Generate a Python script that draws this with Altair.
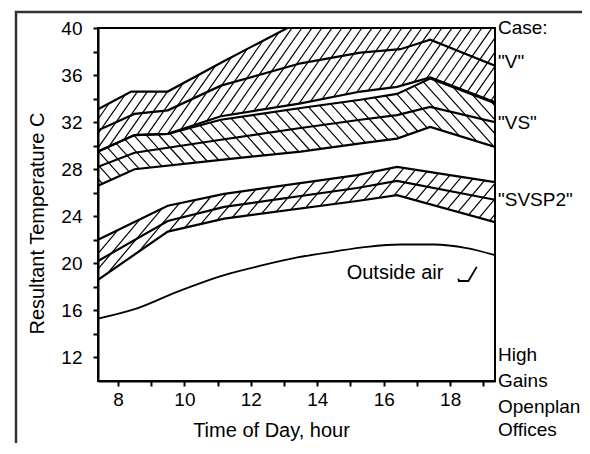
import altair as alt
import numpy as np
import pandas as pd

X_MIN, X_MAX = 7.4, 19.35
Y_MIN, Y_MAX = 10, 40
W, H = 397, 353
FONT = "Liberation Sans"

# ---- data (hour, temperature C) ----
v_top_x = [7.4, 8.4, 9.5, 11.2, 13.1, 19.35]
v_top_y = [33.1, 34.6, 34.6, 37.2, 40.0, 40.0]
v_mid_x = [7.4, 8.5, 9.5, 11.1, 13.5, 15.3, 16.5, 17.4, 19.35]
v_mid_y = [31.3, 32.7, 33.0, 35.1, 37.0, 37.9, 38.2, 39.0, 36.8]
v_low_x = [7.4, 8.5, 9.5, 11.1, 13.5, 15.3, 16.4, 17.4, 19.35]
v_low_y = [29.5, 30.9, 31.0, 32.5, 33.6, 34.6, 35.0, 35.8, 33.7]
vs_top_x = [7.4, 8.5, 9.5, 11.1, 13.5, 15.3, 16.4, 17.4, 19.35]
vs_top_y = [29.5, 30.9, 31.0, 32.2, 33.2, 33.9, 34.4, 35.7, 33.6]
vs_mid_x = [7.4, 8.5, 11.1, 13.5, 15.3, 16.4, 17.4, 19.35]
vs_mid_y = [28.2, 29.4, 30.5, 31.5, 32.2, 32.6, 33.3, 32.0]
vs_low_x = [7.4, 8.5, 11.1, 13.5, 15.3, 16.4, 17.4, 19.35]
vs_low_y = [26.6, 28.0, 28.8, 29.5, 30.2, 30.6, 31.6, 29.9]
sv_top_x = [7.4, 9.5, 11.2, 15.2, 16.4, 19.35]
sv_top_y = [22.0, 24.9, 25.9, 27.5, 28.2, 26.9]
sv_mid_x = [7.4, 9.5, 11.2, 15.2, 16.4, 19.35]
sv_mid_y = [20.2, 23.6, 24.8, 26.4, 27.0, 25.4]
sv_low_x = [7.4, 9.5, 11.2, 15.2, 16.4, 19.35]
sv_low_y = [18.6, 22.7, 23.8, 25.3, 25.8, 23.5]
air_x = [7.4, 8.5, 9.8, 11.2, 12.3, 13.4, 14.5, 15.5, 16.5, 17.5, 18.5, 19.35]
air_y = [15.3, 16.1, 17.6, 19.0, 19.8, 20.5, 21.0, 21.4, 21.6, 21.6, 21.3, 20.7]

case_labels = ["Case:", '"V"', '"VS"', '"SVSP2"', "High", "Gains", "Openplan", "Offices"]
case_label_y = [40.0, 37.1, 31.9, 25.4, 12.2, 10.0, 7.8, 5.8]

air_label = "Outside air"
air_label_x, air_label_y = 16.34, 19.15
hook_x = [18.25, 18.26, 18.55, 18.8]
hook_y = [18.7, 18.5, 18.5, 19.7]

# ---- long-format line table ----
series = {
    "v_top": (v_top_x, v_top_y), "v_mid": (v_mid_x, v_mid_y), "v_low": (v_low_x, v_low_y),
    "vs_top": (vs_top_x, vs_top_y), "vs_mid": (vs_mid_x, vs_mid_y), "vs_low": (vs_low_x, vs_low_y),
    "sv_top": (sv_top_x, sv_top_y), "sv_mid": (sv_mid_x, sv_mid_y), "sv_low": (sv_low_x, sv_low_y),
}
rows = []
for name, (xs_, ys_) in series.items():
    for a, b in zip(xs_, ys_):
        rows.append({"series": name, "hour": a, "temp": b})
lines_df = pd.DataFrame(rows)
air_df = pd.DataFrame({"hour": air_x, "temp": air_y})

# ---- hatching of the bands (segments derived from band boundaries) ----
PXH = W / (X_MAX - X_MIN)
PXT = H / (Y_MAX - Y_MIN)


def hatch(lx, ly, ux, uy, angle, spacing_px, direction, band):
    grid = np.linspace(X_MIN, X_MAX, 8000)
    lo = np.interp(grid, lx, ly)
    up = np.minimum(np.interp(grid, ux, uy), Y_MAX)
    k = direction * np.tan(np.radians(angle)) * PXH / PXT
    dc = abs(k) * spacing_px / PXH
    cmin = min((lo - k * grid).min(), (up - k * grid).min())
    cmax = max((lo - k * grid).max(), (up - k * grid).max())
    segs = []
    for c in np.arange(cmin - dc * 0.5, cmax + dc, dc):
        yl = c + k * grid
        inside = np.where((yl >= lo) & (yl <= up))[0]
        if len(inside) < 2:
            continue
        i0, i1 = inside[0], inside[-1]
        segs.append({"band": band, "x1": grid[i0], "y1": yl[i0], "x2": grid[i1], "y2": yl[i1]})
    return segs


hatch_rows = []
hatch_rows += hatch(v_low_x, v_low_y, v_top_x, v_top_y, 55, 10, 1, "V")
hatch_rows += hatch(vs_low_x, vs_low_y, vs_top_x, vs_top_y, 48, 12.5, -1, "VS")
hatch_rows += hatch(sv_low_x, sv_low_y, sv_top_x, sv_top_y, 50, 13, 1, "SVSP2")
hatch_df = pd.DataFrame(hatch_rows)

# ---- scales and axes ----
xs = alt.Scale(domain=[X_MIN, X_MAX], nice=False, zero=False)
ys = alt.Scale(domain=[Y_MIN, Y_MAX], nice=False, zero=False)

xaxis = alt.Axis(
    values=list(range(8, 20)),
    labelExpr="datum.value % 2 == 0 ? datum.label : ''",
    title="Time of Day, hour", grid=False,
    tickSize=5, tickWidth=2, tickColor="black",
    domainColor="black", domainWidth=2,
    labelFont=FONT, labelFontSize=19, labelColor="black", labelPadding=4,
    labelFlush=False, labelOverlap=False,
    titleFont=FONT, titleFontSize=20, titleFontWeight="normal", titleColor="black",
    titleX=173, titleY=49, titleAlign="center", titleBaseline="middle",
)
yaxis = alt.Axis(
    values=list(range(12, 41, 2)),
    labelExpr="datum.value % 4 == 0 ? datum.label : ''",
    title="Resultant Temperature C", grid=False,
    tickSize=5, tickWidth=2, tickColor="black",
    domainColor="black", domainWidth=2,
    labelFont=FONT, labelFontSize=19, labelColor="black", labelPadding=11,
    labelFlush=False, labelOverlap=False,
    titleFont=FONT, titleFontSize=20, titleFontWeight="normal", titleColor="black",
    titleX=-61, titleY=195, titleAngle=270, titleAlign="center", titleBaseline="middle",
)

hatch_layer = alt.Chart(hatch_df).mark_rule(color="black", strokeWidth=1.2).encode(
    x=alt.X("x1:Q", scale=xs, axis=xaxis),
    y=alt.Y("y1:Q", scale=ys, axis=yaxis),
    x2="x2:Q", y2="y2:Q",
)

band_lines = alt.Chart(lines_df).mark_line(color="black", strokeWidth=2.2, clip=True).encode(
    x=alt.X("hour:Q", scale=xs, axis=xaxis),
    y=alt.Y("temp:Q", scale=ys, axis=yaxis),
    detail="series:N",
)

air_line = alt.Chart(air_df).mark_line(color="black", strokeWidth=1.8, interpolate="monotone").encode(
    x=alt.X("hour:Q", scale=xs, axis=xaxis),
    y=alt.Y("temp:Q", scale=ys, axis=yaxis),
)

case_df = pd.DataFrame({"text": case_labels, "temp": case_label_y, "hour": [X_MAX] * len(case_labels)})
case_text = alt.Chart(case_df).mark_text(
    align="left", baseline="middle", dx=3, font=FONT, fontSize=19, color="black"
).encode(
    x=alt.X("hour:Q", scale=xs, axis=xaxis),
    y=alt.Y("temp:Q", scale=ys, axis=yaxis),
    text="text:N",
)

air_text = alt.Chart(pd.DataFrame({"text": [air_label], "hour": [air_label_x], "temp": [air_label_y]})).mark_text(
    align="center", baseline="middle", font=FONT, fontSize=20, color="black"
).encode(
    x=alt.X("hour:Q", scale=xs, axis=xaxis),
    y=alt.Y("temp:Q", scale=ys, axis=yaxis),
    text="text:N",
)

hook = alt.Chart(pd.DataFrame({"hour": hook_x, "temp": hook_y, "o": list(range(len(hook_x)))})).mark_line(
    color="black", strokeWidth=1.8
).encode(
    x=alt.X("hour:Q", scale=xs, axis=xaxis),
    y=alt.Y("temp:Q", scale=ys, axis=yaxis),
    order="o:Q",
)

# decorative outer frame of the scanned figure (left and top edges)
frame_df = pd.DataFrame({
    "hour": [X_MIN - 82 / PXH, X_MIN - 82 / PXH, X_MIN + 485 / PXH],
    "temp": [Y_MAX - 420 / PXT, Y_MAX + 16 / PXT, Y_MAX + 16 / PXT],
    "o": [0, 1, 2],
})
frame = alt.Chart(frame_df).mark_line(color="#333", strokeWidth=2.5).encode(
    x=alt.X("hour:Q", scale=xs, axis=xaxis),
    y=alt.Y("temp:Q", scale=ys, axis=yaxis),
    order="o:Q",
)

chart = alt.layer(
    hatch_layer, band_lines, air_line, case_text, air_text, hook, frame,
).properties(
    width=W, height=H,
    autosize=alt.AutoSizeParams(type="none"),
    padding={"left": 90, "top": 20, "right": 87, "bottom": 62},
    background="white",
).configure_view(stroke="black", strokeWidth=2)

chart.save("out.html", embed_options={"renderer": "svg", "actions": False})
